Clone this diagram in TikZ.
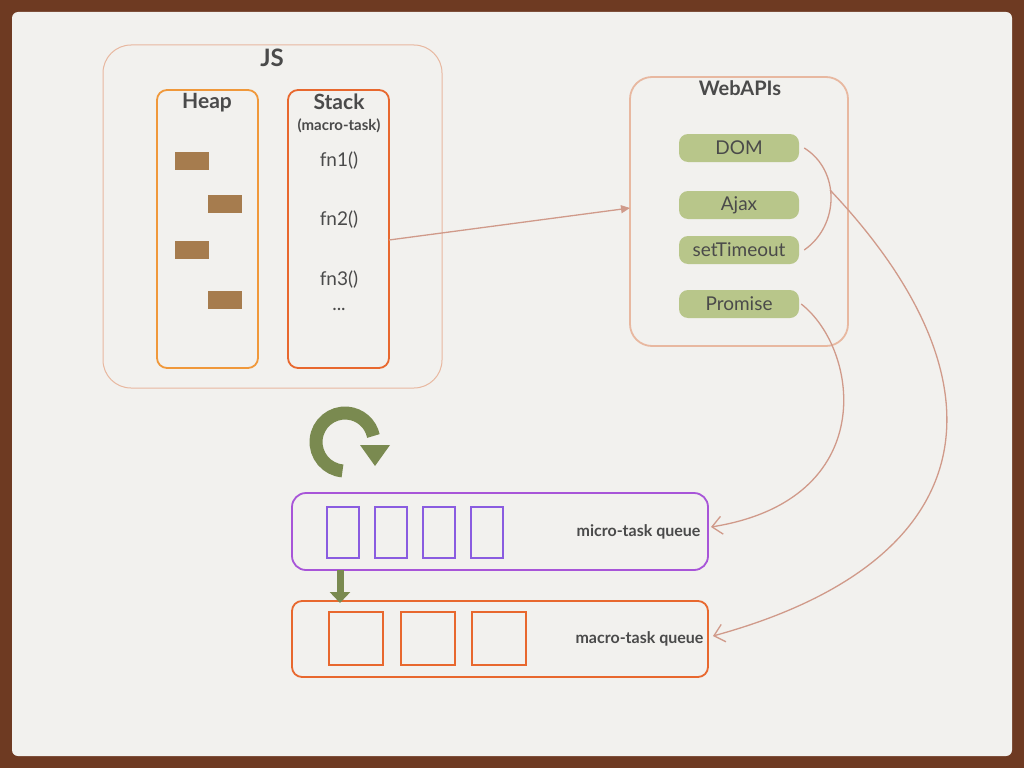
\documentclass[tikz,border=0pt]{standalone}
\usepackage{fontspec}
\setmainfont{Lato}
\usetikzlibrary{arrows.meta}
\definecolor{frame}{HTML}{6E3A22}
\definecolor{paper}{HTML}{F2F1EE}
\definecolor{txt}{HTML}{4A4A4A}
\definecolor{boxc}{HTML}{E8B8A0}
\definecolor{org}{HTML}{F0983A}
\definecolor{red}{HTML}{E8682E}
\definecolor{brownb}{HTML}{A67C4E}
\definecolor{pill}{HTML}{B8C68A}
\definecolor{conn}{HTML}{D09A8A}
\definecolor{purp}{HTML}{A855D8}
\definecolor{purq}{HTML}{8A5CE0}
\definecolor{grn}{HTML}{7A8A50}
\tikzset{
  lbl/.style={text=txt,font=\bfseries\fontsize{20}{22}\selectfont},
  fn/.style={text=txt,font=\fontsize{19}{21}\selectfont},
  pillbox/.style={fill=pill,rounded corners=9pt,minimum width=120pt,minimum height=28pt,text=txt,font=\fontsize{19}{21}\selectfont,inner sep=0pt},
  conn/.style={draw=conn,line width=1.3pt},
  qlbl/.style={text=txt,font=\bfseries\fontsize{16}{18}\selectfont,anchor=east}
}
\begin{document}
\begin{tikzpicture}[x=1pt,y=-1pt]
\fill[frame] (0,0) rectangle (1024,768);
\fill[paper,rounded corners=6pt] (12,12) rectangle (1012,756);
% JS
\draw[boxc,line width=1pt,rounded corners=28pt] (103,45) rectangle (442,388);
\node[lbl,font=\bfseries\fontsize{24}{26}\selectfont] (js) at (272,58) {JS};
\draw[org,line width=1.8pt,rounded corners=10pt] (157,90) rectangle (258,368);
\node[lbl,font=\bfseries\fontsize{21}{23}\selectfont] (heap) at (207,103) {Heap};
\draw[red,line width=1.8pt,rounded corners=10pt] (288,90) rectangle (389,368);
\node[lbl,font=\bfseries\fontsize{21}{23}\selectfont] (stack) at (339,102) {Stack};
\node[lbl,font=\bfseries\fontsize{15}{17}\selectfont] (mt) at (339,126) {(macro-task)};
\fill[brownb] (175,152) rectangle (209,170);
\fill[brownb] (208,195) rectangle (242,213);
\fill[brownb] (175,241) rectangle (209,259);
\fill[brownb] (208,291) rectangle (242,309);
\node[fn] (f1) at (339,161) {fn1()};
\node[fn] (f2) at (339,220) {fn2()};
\node[fn] (f3) at (339,280) {fn3()};
\node[fn] (f4) at (339,309) {...};
\coordinate (stk) at (389,240);
% WebAPIs
\draw[boxc,line width=1.8pt,rounded corners=22pt] (630,77) rectangle (848,346);
\coordinate (web) at (630,208);
\node[lbl] (wa) at (740,88) {WebAPIs};
\node[pillbox] (dom) at (739,148) {DOM};
\node[pillbox] (ajax) at (739,205) {Ajax};
\node[pillbox] (st) at (739,250) {setTimeout};
\node[pillbox] (pr) at (739,304) {Promise};
\draw[conn,-{Triangle[length=9pt,width=8pt]}] (stk) -- (web);
\draw[conn] ([xshift=5pt]dom.east) .. controls (840,170) and (840,225) .. ([xshift=5pt]st.east);
% queues
\draw[purp,line width=1.8pt,rounded corners=14pt] (292,493) rectangle (708,570);
\foreach \x in {327,375,423,471} \draw[purq,line width=1.6pt] (\x,507) rectangle (\x+32,558);
\node[qlbl] (mq) at (704,532) {micro-task queue};
\draw[red,line width=1.8pt,rounded corners=10pt] (292,601) rectangle (708,677);
\foreach \x in {329,401,472} \draw[red,line width=1.6pt] (\x,612) rectangle (\x+54,665);
\node[qlbl] (Mq) at (707,639) {macro-task queue};
\coordinate (mqin) at (711,527);
\coordinate (Mqin) at (713,636);
\draw[conn,-{Straight Barb[length=10pt,width=18pt]}] ([xshift=2pt]pr.east) .. controls (860,350) and (880,500) .. (mqin);
\draw[conn,-{Straight Barb[length=10pt,width=18pt]}] (830,190) .. controls (1010,380) and (990,560) .. (Mqin);
% green loop
\draw[grn,line width=13pt] (342.5,470.9) arc[start angle=95,end angle=348,radius=29];
\fill[grn] (360,445) -- (390,445) -- (375,466) -- cycle;
\draw[grn,line width=7pt,-{Triangle[length=11pt,width=20pt]}] (340,570) -- (340,603);
\end{tikzpicture}
\end{document}
